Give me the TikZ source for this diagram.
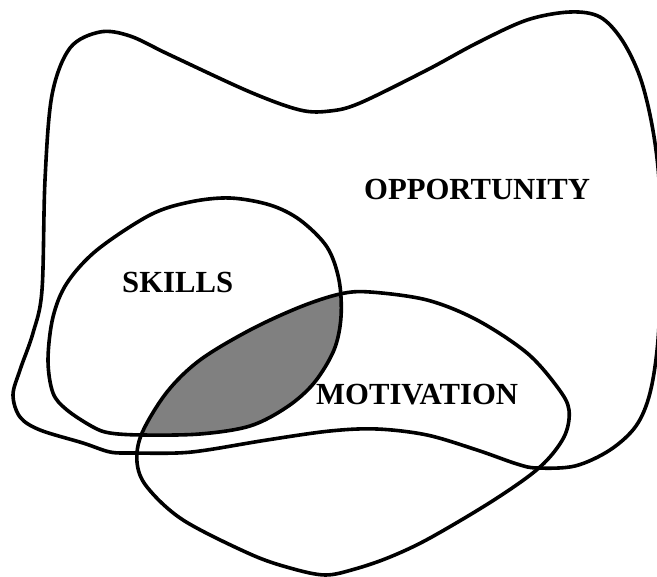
\documentclass[tikz,border=0pt]{standalone}
\usepackage{fontspec}
\setmainfont{Liberation Serif}
\begin{document}
\begin{tikzpicture}[x=1pt,y=-1pt,
  outline/.style={line width=3.6pt,line join=round},
  label/.style={font=\fontsize{30.7}{31}\selectfont\bfseries,inner sep=0pt,anchor=base west}]
\useasboundingbox[fill=white] (0,0) rectangle (657,577);
\def\skillspath{plot[smooth cycle,tension=0.55] coordinates {(230,198) (270,205) (300,220) (327,247) (339,280) (341,317) (334,350) (314,383) (287,407) (250,426) (200,434) (142,435) (110,433) (93,427) (67,410) (53,393) (48,360) (53,317) (67,283) (97,250) (150,215) (190,202)}}
\def\motivpath{plot[smooth cycle,tension=0.55] coordinates {(340,294) (370,292) (427,300) (477,320) (527,353) (558,388) (569,410) (564,437) (540,467) (494,500) (430,538) (390,557) (355,569) (325,575) (290,568) (250,554) (183,520) (147,487) (137,462) (142,433) (167,392) (200,360) (250,330) (300,307)}}
\begin{scope}
  \clip \skillspath;
  \fill[fill={rgb,255:red,128;green,128;blue,128}] \motivpath;
\end{scope}
\draw[outline] plot[smooth cycle,tension=0.55] coordinates {(42,290) (45,180) (52,95) (70,48) (100,32) (130,36) (170,55) (250,92) (300,110) (330,111) (360,103) (427,70) (477,43) (527,20) (570,12) (600,17) (622,40) (640,77) (652,125) (659,180) (661,260) (658,340) (650,393) (636,426) (610,450) (575,466) (537,468) (517,464) (477,450) (427,435) (377,429) (330,431) (267,440) (207,450) (177,453) (133,453) (110,452) (83,443) (40,430) (20,417) (13,395) (20,370) (33,333)};
\draw[outline] \skillspath;
\draw[outline] \motivpath;
\node[label] (opp) at (364,200) {OPPORTUNITY};
\node[label] (skills) at (122,293) {SKILLS};
\node[label] (motiv) at (316,405) {MOTIVATION};
\end{tikzpicture}
\end{document}
